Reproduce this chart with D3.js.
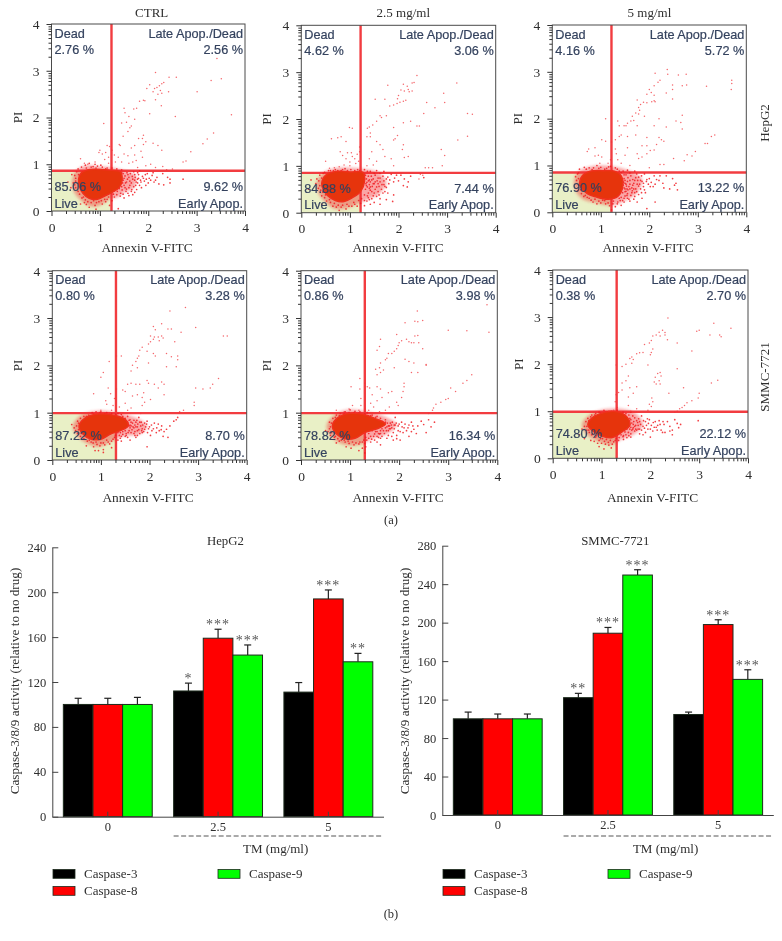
<!DOCTYPE html>
<html><head><meta charset="utf-8">
<script src="https://cdn.jsdelivr.net/npm/d3@7/dist/d3.min.js"></script>
<style>
html,body{margin:0;padding:0;background:#fff}
svg{display:block;filter:blur(0.3px)}
text{font-family:"Liberation Serif",serif;fill:#2e2e2e}
.gate{font-family:"Liberation Sans",sans-serif;font-size:12.7px;fill:#34425e;stroke:#34425e;stroke-width:.2px}
</style></head><body><div id="c"></div>
<script>
// ---------- panel (a): flow cytometry ----------
const panelTitles = ["CTRL","2.5 mg/ml","5 mg/ml"];
const rowTitles = ["HepG2","SMMC-7721"];
const majorTicks = [0,1,2,3,4];
const minorTicks = [0.30,0.48,0.60,0.70,0.78,0.85,0.90,0.95,1.30,1.48,1.60,1.70,1.78,1.85,1.90,1.95,2.30,2.48,2.60,2.70,2.78,2.85,2.90,2.95,3.30,3.48,3.60,3.70,3.78,3.85,3.90,3.95];
const gateX = [1.24,1.22,1.22,1.31,1.30,1.31];
const gateY = [0.86,0.85,0.85,0.99,0.99,0.99];
const quadDead = ["2.76 %","4.62 %","4.16 %","0.80 %","0.86 %","0.38 %"];
const quadLate = ["2.56 %","3.06 %","5.72 %","3.28 %","3.98 %","2.70 %"];
const quadLive = ["85.06 %","84.88 %","76.90 %","87.22 %","78.82 %","74.80 %"];
const quadEarly = ["9.62 %","7.44 %","13.22 %","8.70 %","16.34 %","22.12 %"];

const core1=[[.56,.68],[.62,.82],[.8,.89],[1.24,.87],[1.42,.84],[1.46,.66],[1.4,.5],[1.25,.4],[1.1,.32],[.95,.25],[.78,.27],[.65,.38],[.58,.52]];
const core2=[[.42,.62],[.5,.8],[.7,.88],[1.0,.87],[1.27,.86],[1.3,.66],[1.22,.45],[1.05,.32],[.88,.24],[.7,.26],[.55,.36],[.46,.48]];
const core3=[[.57,.58],[.62,.78],[.8,.88],[1.05,.89],[1.28,.88],[1.42,.78],[1.45,.55],[1.35,.34],[1.15,.28],[.9,.33],[.72,.4]];
const core4=[[.55,.72],[.68,.89],[.95,.97],[1.3,.94],[1.52,.84],[1.56,.72],[1.4,.62],[1.2,.55],[1.0,.44],[.8,.44],[.62,.56]];
const core5=[[.64,.72],[.72,.87],[.95,.98],[1.28,.96],[1.5,.88],[1.72,.76],[1.55,.66],[1.3,.58],[1.1,.46],[.9,.45],[.72,.55]];
const core6=[[.72,.72],[.82,.87],[1.05,.97],[1.32,.99],[1.52,.88],[1.58,.7],[1.42,.56],[1.22,.44],[1.02,.47],[.82,.58]];

const halo1=[[.42,.6],[.5,.85],[.7,.97],[1.0,.95],[1.3,.92],[1.55,.85],[1.75,.75],[1.7,.5],[1.5,.4],[1.38,.3],[1.2,.25],[1.0,.12],[.8,.1],[.62,.22],[.48,.38]];
const halo2=[[.3,.6],[.42,.82],[.7,.95],[1.3,.93],[1.6,.85],[1.75,.65],[1.6,.4],[1.4,.3],[1.2,.2],[.95,.1],[.7,.08],[.5,.22],[.35,.42]];
const halo3=[[.45,.55],[.52,.85],[.8,.98],[1.25,.98],[1.6,.88],[1.85,.7],[1.75,.42],[1.5,.25],[1.25,.15],[.9,.2],[.6,.3]];
const halo4=[[.42,.72],[.6,.95],[.95,1.04],[1.35,1.0],[1.7,.9],[1.95,.72],[1.8,.55],[1.45,.5],[1.2,.38],[.95,.28],[.7,.36],[.5,.52]];
const halo5=[[.52,.72],[.68,.95],[.95,1.06],[1.35,1.02],[1.7,.92],[1.95,.75],[1.75,.55],[1.45,.45],[1.2,.32],[.9,.32],[.65,.45]];
const halo6=[[.6,.72],[.75,.92],[1.05,1.04],[1.4,1.05],[1.7,.95],[1.85,.72],[1.65,.5],[1.4,.4],[1.2,.28],[.95,.35],[.7,.5]];

const sparse1=[[3.42,3.26],[3.3,2.79],[3.51,2.83],[3.01,2.55],[3.72,2.06],[3.35,1.67],[3.22,1.54],[3.13,1.44],[2.88,1.27],[2.78,1.07],[2.72,1.05],[2.56,2.02],[2.58,2.86],[2.43,2.86],[2.15,2.96],[2.32,2.75],[2.28,2.72],[2.42,2.55],[2.13,2.62],[2.18,2.64],[2.23,2.68],[2.25,2.58],[2.28,2.52],[2.2,2.5],[2.1,2.55],[2.03,2.7],[1.97,2.62],[1.93,2.36],[1.9,2.37],[1.82,2.35],[2.15,2.38],[2.27,2.25],[2.03,2.08],[1.76,2.2],[1.7,2.18],[1.5,2.2],[1.52,2.1],[1.6,2.02],[1.72,1.96],[1.55,1.9],[1.45,1.88],[1.08,1.87],[1.65,1.82],[1.62,1.78],[1.58,1.7],[1.48,1.6],[1.9,1.62],[1.88,1.55],[1.95,1.48],[1.8,1.55],[1.9,1.42],[2.1,1.45],[2.2,1.4],[2.28,1.3],[1.72,1.4],[1.65,1.35],[1.42,1.4],[1.4,1.42],[1.3,1.2],[1.38,1.15],[1.5,1.22],[1.58,1.18],[1.72,1.2],[1.85,1.28],[1.88,1.15],[1.75,1.08],[1.68,1.05],[1.6,1.02],[1.45,1.05],[1.32,1.05],[2.05,1.0],[1.15,1.4],[1.2,1.38],[1.25,1.3],[1.18,1.15],[1.0,1.3],[.98,1.25],[1.05,1.22],[1.1,1.1],[.9,1.05],[.75,1.0],[.6,1.12],[.68,1.02],[1.12,1.25],[1.18,1.02],[2.3,.95],[2.15,.93],[1.95,.97],[1.78,.93],[2.5,.9],[2.38,.88]];
const fringe1=[[1.45,.82],[1.52,.75],[1.48,.66],[1.5,.55],[1.46,.45],[1.55,.62],[1.6,.72],[1.62,.55],[1.68,.68],[1.72,.78],[1.75,.62],[1.8,.7],[1.82,.55],[1.88,.74],[1.92,.64],[1.98,.8],[2.02,.7],[2.08,.76],[2.12,.62],[2.18,.72],[2.22,.58],[2.3,.8],[2.32,.56],[2.45,.68],[2.45,.6],[2.72,.68],[1.65,.42],[1.72,.4],[1.58,.38],[1.42,.32],[1.5,.28],[1.78,.82],[1.35,.35],[1.3,.3],[1.25,.22],[1.18,.3],[1.1,.25],[1.05,.15],[.98,.2],[.9,.12],[.82,.18],[.78,.08],[.7,.24],[.66,.3],[.58,.36],[.62,.46],[.5,.5],[.45,.6],[.5,.7],[.42,.78],[.52,.84],[.55,.9],[.62,.94],[.7,.98],[.78,1.02],[.86,.95],[.95,.96],[1.05,.94],[1.15,.92],[.4,.5],[.34,.62],[.6,.15],[1.2,.12],[1.38,.05],[1.32,.58],[1.44,.7],[1.4,.48],[1.43,.38],[1.55,.47],[1.36,.7],[1.48,.8],[1.56,.82],[.72,.14],[.92,.04],[1.62,.64],[1.7,.52],[1.85,.62],[2.0,.6],[2.4,.72],[1.95,.55]];
const dense1=[[1.5,.7],[1.53,.6],[1.58,.78],[1.6,.5],[1.65,.6],[1.67,.74],[1.72,.66],[1.74,.55],[1.78,.68],[1.8,.78],[1.84,.66],[1.86,.5],[1.9,.7],[1.94,.78],[1.96,.68],[2.05,.66],[2.1,.82],[2.15,.66],[1.48,.36],[1.54,.42],[1.6,.33],[1.68,.35],[1.76,.46],[1.45,.52],[1.47,.6],[1.52,.5],[1.57,.68],[1.63,.8],[1.7,.84],[1.78,.6],[1.3,.44],[1.36,.42],[1.28,.36],[1.15,.25],[1.12,.2],[1.03,.22],[.93,.18],[.87,.22],[.75,.2],[.68,.18],[.63,.28],[.55,.42],[.48,.56],[.5,.64],[.48,.76],[.56,.78],[.72,.92],[.82,.94],[.92,.92],[1.12,.9],[1.02,.98],[.9,1.0],[1.25,.92],[1.35,.9],[1.45,.88],[1.82,.86],[1.66,.46],[1.73,.72]];

const sparse2=[[2.38,2.93],[2.32,2.78],[2.28,2.77],[2.1,2.74],[2.18,2.7],[2.05,2.62],[2.12,2.6],[2.2,2.63],[2.28,2.6],[2.22,2.58],[3.2,2.77],[1.78,2.72],[2.0,2.5],[1.98,2.43],[1.52,2.42],[1.72,2.42],[2.93,2.55],[2.58,2.35],[2.95,2.35],[2.75,2.24],[2.52,2.12],[1.9,2.3],[1.97,2.33],[2.03,2.36],[2.1,2.38],[2.15,2.4],[1.82,2.28],[1.75,2.07],[1.62,2.07],[1.65,2.03],[1.55,1.95],[1.47,1.87],[1.36,1.8],[1.4,1.83],[1.05,1.8],[.99,1.82],[2.1,1.92],[2.25,1.95],[2.38,1.85],[2.43,1.85],[1.9,1.82],[3.42,2.12],[3.52,2.1],[3.42,1.63],[3.22,1.55],[1.42,1.7],[1.42,1.62],[1.35,1.62],[1.98,1.65],[1.93,1.58],[1.9,1.55],[.62,1.58],[.75,1.6],[.82,1.62],[.92,1.52],[1.2,1.4],[1.2,1.3],[1.55,1.52],[1.62,1.45],[1.68,1.35],[1.72,1.2],[2.1,1.45],[2.08,1.35],[2.2,1.2],[2.12,1.18],[2.88,1.35],[2.95,1.22],[2.9,1.0],[2.62,.96],[2.7,.96],[2.55,.96],[1.45,1.3],[1.4,1.15],[1.35,1.0],[1.55,1.1],[1.48,1.02],[1.85,1.15],[1.9,1.0],[.8,1.3],[.85,1.22],[.92,1.15],[1.0,1.08],[1.05,1.2],[1.1,1.15],[1.12,1.05],[1.0,1.0],[.88,1.02],[.78,.98],[.68,.96],[.58,.95],[.5,1.1],[1.15,1.25],[1.18,1.1],[1.03,1.28],[.95,1.28],[2.45,.82],[2.42,.72],[2.5,.8]];
const fringe2=[[1.32,.8],[1.38,.78],[1.45,.7],[1.52,.8],[1.58,.74],[1.62,.66],[1.68,.78],[1.75,.72],[1.8,.62],[1.85,.82],[1.92,.74],[2.0,.68],[2.05,.8],[2.12,.72],[2.2,.66],[2.25,.78],[1.35,.65],[1.4,.6],[1.48,.62],[1.55,.55],[1.6,.56],[1.65,.5],[1.72,.45],[1.78,.42],[1.5,.42],[1.55,.35],[1.62,.3],[1.45,.3],[1.38,.42],[1.32,.5],[1.35,.25],[1.42,.18],[1.3,.15],[1.22,.2],[1.15,.14],[1.08,.22],[.98,.14],[.92,.08],[.85,.16],[.78,.05],[.72,.12],[.65,.14],[.6,.22],[.52,.25],[.48,.32],[.42,.36],[.4,.48],[.35,.52],[.3,.62],[.32,.72],[.38,.8],[.45,.84],[.2,.7],[.15,.5],[.42,.18],[.56,.9],[.66,.9],[.75,.9],[.85,.92],[.95,.9],[1.1,.9],[1.16,.92],[1.3,.92],[1.42,.88],[1.55,.9],[1.7,.88],[1.75,.28],[1.9,.38],[1.88,.24],[2.1,.58],[2.18,.55],[1.3,.72],[1.42,.55],[1.52,.66],[1.36,.55],[1.3,.38],[1.42,.48],[1.58,.62],[1.7,.6],[1.75,.54],[1.5,.22],[1.62,.18],[2.52,.75],[1.38,.32],[1.33,.62]];
const dense2=[[1.34,.72],[1.4,.7],[1.44,.78],[1.48,.72],[1.46,.56],[1.5,.62],[1.56,.68],[1.62,.74],[1.66,.6],[1.7,.68],[1.72,.56],[1.78,.76],[1.82,.7],[1.9,.66],[1.96,.8],[1.4,.52],[1.45,.45],[1.52,.5],[1.58,.45],[1.36,.36],[1.4,.28],[1.48,.36],[1.3,.26],[1.24,.3],[1.18,.26],[1.1,.18],[1.04,.14],[.94,.18],[.82,.12],[.76,.16],[.68,.2],[.58,.28],[.5,.38],[.44,.44],[.38,.58],[.36,.68],[.42,.74],[.48,.86],[.6,.9],[.7,.92],[.82,.9],[.9,.94],[1.02,.92],[1.2,.9],[1.36,.88],[1.5,.84],[1.62,.84],[1.34,.58],[1.38,.68],[1.42,.66],[1.6,.38],[1.68,.42]];

const sparse3=[[2.37,3.05],[2.12,2.97],[2.38,2.95],[2.6,2.93],[2.76,2.95],[2.22,2.82],[2.18,2.78],[2.1,2.7],[2.48,2.72],[2.48,2.62],[2.68,2.7],[2.77,2.72],[3.18,2.69],[3.7,2.82],[3.7,2.75],[3.69,2.62],[2.0,2.62],[2.04,2.56],[2.1,2.5],[2.35,2.55],[2.48,2.42],[1.95,2.52],[2.1,2.38],[2.12,2.36],[2.05,2.36],[1.95,2.34],[1.88,2.35],[1.82,2.3],[1.78,2.24],[1.75,2.4],[1.8,2.18],[1.72,2.12],[1.78,2.1],[1.65,2.05],[1.62,1.95],[1.68,1.96],[1.55,1.9],[1.52,1.85],[1.48,1.85],[1.38,1.85],[1.35,1.95],[1.75,1.85],[1.1,2.0],[1.9,2.05],[2.2,2.0],[2.1,1.85],[2.68,2.07],[2.65,1.92],[2.68,1.78],[2.55,1.95],[2.35,1.82],[2.2,1.6],[2.25,1.55],[2.3,1.52],[2.15,1.45],[1.95,1.6],[1.72,1.65],[1.42,1.65],[1.38,1.62],[1.55,1.62],[1.3,1.55],[3.28,1.62],[3.35,1.65],[3.2,1.47],[3.15,1.47],[2.95,1.3],[2.78,1.23],[2.88,1.2],[1.95,1.42],[1.85,1.42],[2.02,1.32],[2.1,1.33],[1.95,1.25],[1.75,1.25],[1.78,1.15],[1.85,1.18],[1.55,1.38],[1.3,1.35],[1.32,1.25],[1.35,1.12],[1.42,1.05],[1.5,1.22],[1.6,1.0],[1.22,1.5],[1.1,1.52],[1.02,1.55],[.88,1.38],[.72,1.3],[.75,1.35],[.88,1.2],[.95,1.22],[1.02,1.18],[.98,1.05],[1.15,1.05],[1.2,1.12],[2.3,1.02],[2.22,1.02],[2.0,.95],[2.5,1.15],[2.72,1.1]];
const fringe3=[[1.42,.85],[1.48,.72],[1.52,.8],[1.55,.66],[1.58,.55],[1.62,.78],[1.65,.46],[1.7,.68],[1.75,.6],[1.78,.75],[1.82,.5],[1.85,.66],[1.9,.82],[1.92,.42],[1.98,.6],[2.0,.72],[2.08,.55],[2.15,.7],[2.2,.68],[2.28,.62],[2.35,.78],[2.42,.5],[2.48,.72],[2.55,.62],[2.52,.58],[1.45,.6],[1.48,.52],[1.52,.45],[1.45,.42],[1.5,.35],[1.55,.3],[1.62,.36],[1.68,.28],[1.75,.22],[1.85,.3],[1.95,.08],[2.12,.22],[1.45,.25],[1.42,.15],[1.35,.22],[1.3,.12],[1.25,.18],[1.22,.05],[1.15,.2],[1.08,.25],[1.0,.2],[.92,.18],[.88,.28],[.8,.26],[.72,.32],[.65,.34],[.6,.4],[.52,.46],[.55,.58],[.5,.68],[.48,.76],[.52,.82],[.56,.92],[.66,.96],[.76,.95],[.85,.95],[.92,1.0],[1.0,.96],[1.12,.94],[1.2,.98],[1.3,.95],[1.38,.88],[1.45,.66],[1.5,.5],[1.42,.72],[1.46,.58],[1.5,.62],[1.56,.48],[1.6,.6],[1.66,.58],[1.72,.5],[1.8,.6],[1.88,.55],[1.95,.7],[1.42,.32],[1.55,.4],[1.6,.24],[1.38,.3],[1.48,.3],[1.7,.42],[2.02,.55],[2.1,.78],[1.55,.9],[1.7,.88],[2.3,.52],[2.58,.48]];
const dense3=[[1.48,.8],[1.5,.68],[1.53,.56],[1.56,.74],[1.6,.68],[1.64,.52],[1.66,.7],[1.68,.62],[1.72,.74],[1.74,.44],[1.78,.56],[1.82,.68],[1.84,.78],[1.88,.62],[1.9,.48],[1.94,.66],[2.04,.64],[2.12,.6],[2.22,.78],[1.5,.44],[1.54,.36],[1.58,.28],[1.64,.42],[1.7,.34],[1.78,.38],[1.48,.22],[1.4,.25],[1.34,.18],[1.26,.24],[1.18,.14],[1.1,.18],[1.04,.26],[.96,.24],[.84,.22],[.76,.3],[.68,.36],[.58,.48],[.54,.72],[.54,.84],[.7,.92],[.82,.91],[.96,.94],[1.08,.92],[1.16,.97],[1.34,.92],[1.46,.88],[1.6,.84],[1.74,.82],[1.47,.64],[1.52,.6],[1.54,.5],[1.44,.5],[1.6,.5],[1.68,.5],[1.76,.68],[1.84,.42]];

const sparse4=[[2.74,3.22],[2.42,3.15],[2.25,2.88],[2.08,2.82],[2.12,2.75],[2.38,2.77],[2.45,2.77],[2.95,2.8],[2.65,2.7],[3.52,2.62],[3.6,2.62],[2.02,2.62],[2.1,2.6],[2.18,2.6],[2.25,2.62],[2.28,2.58],[2.2,2.52],[2.08,2.55],[2.02,2.5],[1.98,2.45],[2.52,2.5],[1.85,2.38],[1.95,2.3],[2.08,2.25],[2.12,2.2],[1.8,2.32],[1.78,2.2],[1.75,2.15],[1.72,2.08],[2.35,2.25],[2.45,2.18],[2.58,2.2],[2.58,2.12],[1.42,2.2],[1.32,2.2],[1.17,2.08],[1.65,2.0],[1.62,1.88],[1.75,1.95],[1.98,2.05],[2.35,1.97],[2.55,1.97],[1.05,1.85],[1.0,1.75],[1.55,1.6],[1.62,1.62],[1.72,1.6],[1.8,1.6],[1.95,1.68],[1.98,1.62],[2.1,1.6],[2.25,1.65],[2.3,1.6],[2.18,1.52],[3.42,1.72],[3.3,1.6],[3.25,1.52],[3.1,1.5],[2.95,1.52],[1.88,1.42],[1.85,1.32],[1.75,1.38],[1.65,1.35],[1.5,1.45],[1.45,1.48],[2.3,1.38],[2.02,1.28],[1.9,1.22],[1.85,1.15],[2.92,1.22],[2.92,1.15],[2.7,1.05],[2.62,1.02],[1.32,1.5],[1.2,1.4],[1.15,1.52],[.85,1.4],[1.1,1.25],[1.12,1.18],[1.0,1.05],[1.22,1.05],[1.38,1.12],[1.5,1.2],[1.55,1.05],[1.45,1.0],[1.25,1.15],[1.28,1.3],[1.62,1.1],[1.82,.98]];
const fringe4=[[1.55,.92],[1.6,.85],[1.65,.78],[1.68,.68],[1.72,.8],[1.75,.62],[1.78,.9],[1.82,.72],[1.85,.58],[1.9,.65],[1.95,.82],[2.0,.7],[2.05,.62],[2.1,.78],[2.15,.68],[2.2,.62],[2.25,.72],[2.3,.6],[2.35,.65],[2.42,.72],[2.5,.82],[2.58,.9],[2.55,.85],[1.58,.62],[1.62,.58],[1.68,.56],[1.52,.56],[1.5,.5],[1.55,.48],[1.42,.5],[1.38,.52],[1.35,.42],[1.28,.48],[1.22,.4],[1.18,.34],[1.12,.42],[1.05,.36],[.98,.3],[.92,.33],[.85,.28],[.8,.38],[.88,.2],[.95,.2],[1.05,.22],[.72,.4],[.65,.45],[.58,.5],[.52,.56],[.48,.62],[.5,.72],[.45,.68],[.52,.82],[.58,.88],[.65,.92],[.75,.95],[.82,1.0],[.9,1.02],[1.0,1.02],[1.12,1.0],[1.22,.98],[1.35,.98],[1.45,.92],[1.55,.8],[1.58,.72],[1.6,.68],[1.45,.6],[1.4,.58],[1.35,.58],[1.62,.72],[1.7,.74],[1.75,.7],[1.8,.8],[1.85,.66],[1.9,.78],[1.95,.28],[2.02,.52],[1.72,.48],[1.75,.52],[1.05,.16],[1.22,.26],[.7,.3],[1.42,.4],[1.6,.42],[2.28,.5],[2.38,.48],[.4,.75]];
const dense4=[[1.58,.84],[1.62,.8],[1.66,.7],[1.64,.64],[1.7,.6],[1.72,.7],[1.76,.76],[1.78,.64],[1.8,.56],[1.83,.8],[1.86,.74],[1.88,.6],[1.92,.7],[1.96,.58],[1.98,.66],[2.04,.74],[2.08,.66],[2.14,.58],[2.18,.76],[2.24,.64],[1.56,.58],[1.5,.62],[1.45,.54],[1.52,.52],[1.4,.46],[1.3,.52],[1.25,.44],[1.15,.38],[1.08,.32],[1.0,.36],[.9,.38],[.84,.36],[.76,.42],[.68,.5],[.6,.56],[.54,.64],[.54,.78],[.62,.84],[.7,.92],[.85,.97],[.98,1.0],[1.08,.98],[1.18,.96],[1.3,.97],[1.42,.96],[1.5,.88],[1.6,.74],[1.68,.84],[1.74,.84],[1.84,.62],[1.94,.76],[1.7,.52]];

const sparse5=[[3.79,3.28],[2.37,3.15],[2.32,2.93],[2.38,2.92],[2.48,2.95],[2.12,2.9],[3.0,2.74],[3.38,2.73],[3.83,2.7],[2.38,2.63],[2.32,2.62],[1.95,2.65],[2.15,2.55],[2.2,2.5],[2.25,2.48],[2.05,2.52],[2.0,2.48],[1.98,2.42],[2.3,2.48],[2.4,2.48],[2.48,2.35],[1.62,2.55],[1.6,2.4],[1.55,2.32],[1.95,2.35],[1.9,2.3],[1.78,2.25],[1.85,2.25],[1.75,2.15],[1.72,2.12],[2.12,2.13],[2.2,2.08],[2.3,2.05],[1.62,2.05],[1.6,1.95],[1.68,1.9],[1.62,1.85],[1.55,1.8],[1.52,1.92],[2.55,2.0],[2.55,2.02],[1.9,1.95],[2.25,1.85],[2.38,1.85],[3.48,1.8],[3.38,1.68],[3.3,1.62],[3.05,1.52],[3.15,1.45],[3.0,1.3],[2.95,1.28],[2.85,1.22],[2.75,1.18],[2.7,1.1],[2.68,1.05],[2.6,.98],[1.2,1.72],[1.02,1.55],[1.3,1.62],[1.35,1.55],[1.4,1.52],[1.55,1.55],[1.62,1.5],[2.1,1.62],[2.1,1.55],[2.08,1.45],[1.85,1.45],[1.78,1.42],[1.65,1.32],[1.55,1.25],[1.45,1.38],[1.42,1.2],[1.48,1.12],[1.38,1.05],[1.2,1.5],[1.22,1.3],[1.22,1.15],[1.18,1.05],[1.05,1.15],[.98,1.08],[.88,1.02],[.72,1.05],[1.95,1.22],[1.98,1.15],[2.05,1.32],[1.8,1.12],[1.72,1.05],[1.6,1.02]];
const fringe5=[[1.72,.85],[1.75,.7],[1.78,.62],[1.82,.78],[1.85,.68],[1.88,.58],[1.92,.9],[1.98,.72],[2.02,.6],[2.05,.8],[2.1,.68],[2.15,.62],[2.2,.74],[2.25,.8],[2.3,.65],[2.38,.72],[2.45,.82],[2.5,.75],[2.6,.85],[2.65,.7],[2.72,.8],[1.62,.62],[1.6,.55],[1.55,.6],[1.5,.55],[1.58,.48],[1.65,.5],[1.7,.56],[1.5,.42],[1.42,.5],[1.38,.56],[1.32,.48],[1.28,.42],[1.3,.35],[1.32,.28],[1.25,.25],[1.2,.38],[1.12,.36],[1.05,.38],[.98,.35],[.9,.38],[.82,.42],[.75,.45],[.68,.48],[.6,.52],[.55,.6],[.5,.62],[.6,.7],[.58,.8],[.65,.88],[.72,.95],[.8,.98],[.9,1.02],[1.0,1.06],[1.1,1.03],[1.2,1.02],[1.35,1.0],[1.45,.95],[1.55,.92],[1.62,.88],[1.72,.8],[1.65,.82],[1.58,.75],[1.45,.62],[1.65,.66],[1.78,.52],[1.88,.42],[1.95,.45],[2.02,.42],[1.55,.38],[1.62,.32],[1.95,.52],[2.35,.56],[2.2,.5],[2.55,.58],[1.02,.25],[.92,.28],[1.18,.2],[1.3,.15],[.72,.36],[1.42,.38],[1.5,.68],[1.4,.62],[1.8,.72],[1.92,.74]];
const dense5=[[1.74,.62],[1.76,.78],[1.8,.66],[1.84,.74],[1.86,.8],[1.9,.66],[1.94,.78],[1.98,.62],[2.06,.7],[2.12,.76],[2.18,.68],[2.28,.72],[1.52,.6],[1.58,.56],[1.62,.56],[1.68,.62],[1.72,.68],[1.48,.5],[1.55,.5],[1.62,.46],[1.44,.44],[1.38,.46],[1.34,.42],[1.25,.38],[1.18,.34],[1.08,.32],[.96,.4],[.88,.42],[.78,.4],[.7,.5],[.62,.58],[.58,.66],[.62,.78],[.7,.9],[.78,.94],[.88,.98],[.98,1.0],[1.08,1.0],[1.18,.99],[1.3,.98],[1.42,.94],[1.52,.9],[1.6,.84],[1.68,.8],[1.78,.72],[1.82,.66],[1.9,.74],[2.0,.76],[1.75,.46],[1.85,.5],[2.08,.58],[2.25,.6]];

const sparse6=[[2.36,2.98],[3.3,2.87],[3.65,2.76],[3.0,2.72],[2.95,2.7],[2.25,2.72],[2.18,2.68],[2.3,2.67],[2.12,2.62],[2.05,2.6],[3.22,2.62],[3.42,2.62],[3.45,2.58],[2.3,2.62],[2.2,2.6],[2.02,2.5],[1.98,2.45],[2.35,2.52],[2.55,2.45],[2.05,2.32],[2.02,2.25],[2.0,2.2],[1.88,2.42],[1.85,2.25],[1.78,2.24],[1.72,2.22],[2.85,2.28],[1.62,2.15],[1.65,2.1],[1.58,2.12],[1.5,2.0],[1.62,2.02],[1.42,1.95],[1.3,1.98],[2.55,1.9],[1.95,1.98],[2.2,1.82],[2.22,1.75],[2.15,1.8],[2.1,1.72],[2.18,1.65],[2.08,1.62],[2.12,1.58],[2.2,1.58],[3.38,1.66],[3.25,1.6],[1.55,1.75],[1.5,1.65],[1.42,1.6],[1.35,1.4],[1.42,1.45],[1.58,1.5],[1.72,1.52],[1.65,1.38],[1.55,1.3],[2.68,1.5],[2.38,1.38],[3.0,1.38],[2.98,1.28],[2.85,1.22],[2.75,1.18],[2.7,1.12],[2.65,1.08],[2.6,1.05],[2.03,1.28],[2.05,1.2],[1.98,1.15],[2.02,1.1],[1.95,1.02],[1.72,1.05],[1.6,1.0],[1.55,1.12],[1.3,1.35],[1.28,1.2],[1.32,1.08],[1.25,1.02],[1.15,1.0],[2.55,1.0],[2.5,.98]];
const fringe6=[[1.58,.85],[1.62,.75],[1.65,.65],[1.68,.58],[1.72,.8],[1.75,.7],[1.78,.52],[1.82,.9],[1.85,.68],[1.9,.78],[1.95,.62],[1.98,.82],[2.02,.7],[2.05,.58],[2.1,.78],[2.12,.66],[2.18,.8],[2.22,.6],[2.28,.72],[2.3,.55],[2.35,.78],[2.4,.68],[2.45,.5],[2.5,.82],[2.55,.74],[2.58,.65],[2.62,.72],[2.45,.6],[2.25,.55],[2.98,.8],[1.55,.55],[1.5,.5],[1.6,.52],[1.45,.48],[1.4,.5],[1.52,.62],[1.3,.42],[1.25,.35],[1.18,.38],[1.1,.4],[1.02,.42],[.95,.38],[.88,.45],[.8,.5],[.75,.55],[.7,.6],[.65,.68],[.68,.78],[.72,.85],[.8,.92],[.88,.95],[.95,.98],[1.05,1.02],[1.15,.98],[1.25,.98],[1.4,.95],[1.5,.95],[1.6,.98],[1.08,.3],[1.0,.32],[.92,.32],[.85,.36],[1.15,.28],[1.2,.22],[1.05,.2],[.95,.25],[.78,.38],[.65,.42],[.55,.5],[.6,.62],[1.35,.38],[1.45,.4],[1.6,.45],[1.7,.62],[1.62,.6],[1.75,.62],[1.85,.5],[1.9,.55],[2.0,.45],[2.15,.7],[1.65,.72],[1.78,.78],[1.6,.66],[2.4,.58]];
const dense6=[[1.6,.82],[1.64,.9],[1.66,.78],[1.7,.7],[1.72,.6],[1.76,.84],[1.8,.72],[1.82,.6],[1.86,.8],[1.92,.7],[1.96,.74],[2.0,.62],[2.08,.66],[2.14,.6],[2.2,.72],[2.26,.78],[1.58,.62],[1.56,.48],[1.52,.44],[1.48,.56],[1.44,.46],[1.36,.44],[1.28,.38],[1.22,.3],[1.14,.34],[1.06,.36],[.98,.42],[.9,.48],[.82,.52],[.74,.6],[.7,.68],[.74,.8],[.78,.88],[.86,.92],[.98,.96],[1.08,.98],[1.2,1.0],[1.32,1.02],[1.44,.98],[1.56,.92],[1.68,.86],[1.64,.62],[1.68,.68],[1.74,.76],[1.78,.62],[1.88,.64],[1.94,.84],[2.06,.76]];

const panelCore = [core1,core2,core3,core4,core5,core6];
const panelHalo = [halo1,halo2,halo3,halo4,halo5,halo6];
const panelSparse = [sparse1,sparse2,sparse3,sparse4,sparse5,sparse6];
const panelFringe = [fringe1.concat(dense1),fringe2.concat(dense2),fringe3.concat(dense3),fringe4.concat(dense4),fringe5.concat(dense5),fringe6.concat(dense6)];

// ---------- panel (b): caspase activity ----------
const doses = ["0","2.5","5"];
const seriesNames = ["Caspase-3","Caspase-8","Caspase-9"];
const seriesColors = ["#000000","#ff0000","#00ff00"];
const hepValues = [[100,100,100],[112,159,144],[111,194,138]];
const hepErrTop = [[105.5,105.5,106.3],[119,167,153],[119.5,202,145.5]];
const hepStars  = [["","",""],["*","***","***"],["","***","**"]];
const hepTicks = [0,40,80,120,160,200,240];
const smmcValues = [[100,100,100],[122,189,249.5],[104.5,198,141]];
const smmcErrTop = [[107,105,105],[126.5,195,255],[107,203,151]];
const smmcStars  = [["","",""],["**","***","***"],["","***","***"]];
const smmcTicks = [0,40,80,120,160,200,240,280];
const barTitles = ["HepG2","SMMC-7721"];
const yTitle = "Caspase-3/8/9 activity (relative to no drug)";
const xTitle = "TM (mg/ml)";

// ---------- layout ----------
const W=782,H=941;
const svg=d3.select("#c").append("svg").attr("width",W).attr("height",H);
const ink="#333";
const frames=[
 {l:51.5,r:245,t:24,b:211},{l:301.3,r:495.7,t:25.3,b:212.7},{l:552.3,r:746.3,t:25,b:212.3},
 {l:52.3,r:246.7,t:270.7,b:460},{l:301,r:497.3,t:270.7,b:460},{l:552.7,r:748,t:270,b:458.3}];
const titleCx=[151.7,403.3,649.4];
const xLabelCx=[147,398,648,148,398,652.5];
const xLabelY=[252,252,252,502,502,502];
const defs=svg.append("defs");
defs.append("filter").attr("id","soft").append("feGaussianBlur").attr("stdDeviation",1.6);

frames.forEach((f,i)=>{
  const x=d3.scaleLinear().domain([0,4]).range([f.l,f.r]);
  const y=d3.scaleLinear().domain([0,4]).range([f.b,f.t]);
  const g=svg.append("g");
  g.append("rect").attr("x",x(0)).attr("y",y(gateY[i])).attr("width",x(gateX[i])-x(0)).attr("height",y(0)-y(gateY[i])).attr("fill","#e9f0c6");
  g.append("line").attr("x1",x(gateX[i])).attr("x2",x(gateX[i])).attr("y1",y(0)).attr("y2",y(4)).attr("stroke","#f23c40").attr("stroke-width",2.4);
  g.append("line").attr("x1",x(0)).attr("x2",x(4)).attr("y1",y(gateY[i])).attr("y2",y(gateY[i])).attr("stroke","#f23c40").attr("stroke-width",2.4);
  const hull=d3.line().x(d=>x(d[0])).y(d=>y(d[1])).curve(d3.curveCatmullRomClosed);
  g.append("path").attr("d",hull(panelHalo[i])).attr("fill","#f22a2a").attr("opacity",.42).attr("filter","url(#soft)");
  g.selectAll("circle.f").data(panelFringe[i]).join("circle").attr("class","f")
    .attr("cx",d=>x(d[0])).attr("cy",d=>y(d[1])).attr("r",.85).attr("fill","#f01c22").attr("opacity",.85);
  g.append("path").attr("d",hull(panelCore[i])).attr("fill","#e6340c").attr("stroke","#f0301c").attr("stroke-width",1.5);
  g.selectAll("circle.s").data(panelSparse[i]).join("circle").attr("class","s")
    .attr("cx",d=>x(d[0])).attr("cy",d=>y(d[1])).attr("r",.75).attr("fill","#f2333a").attr("opacity",.75);
  g.append("rect").attr("x",f.l).attr("y",f.t).attr("width",f.r-f.l).attr("height",f.b-f.t).attr("fill","none").attr("stroke","#4a4a4a").attr("stroke-width",1);
  const sty=s=>{s.select(".domain").remove();s.selectAll("line").attr("stroke",ink);s.selectAll("text").attr("font-size",13.5).attr("fill","#2e2e2e").attr("font-family","Liberation Serif");};
  g.append("g").attr("transform",`translate(0,${f.b})`).call(d3.axisBottom(x).tickValues(majorTicks).tickSize(5).tickPadding(6).tickFormat(d3.format("d"))).call(sty);
  g.append("g").attr("transform",`translate(0,${f.b})`).call(d3.axisBottom(x).tickValues(minorTicks).tickSize(3).tickFormat("")).call(sty);
  g.append("g").attr("transform",`translate(${f.l},0)`).call(d3.axisLeft(y).tickValues(majorTicks).tickSize(5).tickPadding(7).tickFormat(d3.format("d"))).call(sty);
  g.append("g").attr("transform",`translate(${f.l},0)`).call(d3.axisLeft(y).tickValues(minorTicks).tickSize(3).tickFormat("")).call(sty);
  const lab=(t,px,py,anc)=>g.append("text").attr("class","gate").attr("x",px).attr("y",py).attr("text-anchor",anc).text(t);
  lab("Dead",f.l+3,f.t+13.5,"start");lab(quadDead[i],f.l+3,f.t+29.5,"start");
  lab("Late Apop./Dead",f.r-2,f.t+13.5,"end");lab(quadLate[i],f.r-2,f.t+29.5,"end");
  lab(quadLive[i],f.l+3,f.b-20,"start");lab("Live",f.l+3,f.b-3.5,"start");
  lab(quadEarly[i],f.r-2,f.b-20,"end");lab("Early Apop.",f.r-2,f.b-3.5,"end");
  g.append("text").attr("x",xLabelCx[i]).attr("y",xLabelY[i]).attr("text-anchor","middle").attr("font-size",13.4).text("Annexin V-FITC");
  g.append("text").attr("transform",`translate(${f.l-30},${(f.t+f.b)/2}) rotate(-90)`).attr("text-anchor","middle").attr("font-size",13).text("PI");
  if(i<3) g.append("text").attr("x",titleCx[i]).attr("y",17).attr("text-anchor","middle").attr("font-size",13).text(panelTitles[i]);
});
rowTitles.forEach((t,i)=>{
  svg.append("text").attr("transform",`translate(769,${i?377:123}) rotate(-90)`).attr("text-anchor","middle").attr("font-size",13).text(t);
});
svg.append("text").attr("x",391).attr("y",524).attr("text-anchor","middle").attr("font-size",12.5).text("(a)");
svg.append("text").attr("x",391).attr("y",918).attr("text-anchor","middle").attr("font-size",12.5).text("(b)");

function bars(o){
  const g=svg.append("g");
  const x=d3.scaleBand().domain(doses).range([o.l+.35,o.r]).paddingInner(.194).paddingOuter(.097);
  const s=d3.scaleBand().domain(seriesNames).range([0,x.bandwidth()]);
  const y=d3.scaleLinear().domain([0,o.max]).range([o.b,o.t]);
  doses.forEach((dose,i)=>{
    seriesNames.forEach((nm,j)=>{
      const bx=x(dose)+s(nm),w=s.bandwidth(),cx=bx+w/2;
      g.append("line").attr("x1",cx).attr("x2",cx).attr("y1",y(o.vals[i][j])).attr("y2",y(o.err[i][j])).attr("stroke","#222").attr("stroke-width",1.2);
      g.append("line").attr("x1",cx-3.5).attr("x2",cx+3.5).attr("y1",y(o.err[i][j])).attr("y2",y(o.err[i][j])).attr("stroke","#222").attr("stroke-width",1.2);
      g.append("rect").attr("x",bx).attr("y",y(o.vals[i][j])).attr("width",w).attr("height",o.b-y(o.vals[i][j]))
        .attr("fill",seriesColors[j]).attr("stroke","#1c2a1c").attr("stroke-width",1);
      if(o.stars[i][j]) g.append("text").attr("x",cx).attr("y",y(o.err[i][j])).attr("text-anchor","middle")
        .attr("font-size",14).attr("letter-spacing",1).style("fill","#555").text(o.stars[i][j]);
    });
  });
  const st=a=>{a.selectAll("line,path").attr("stroke","#444").attr("stroke-width",1);a.selectAll("text").attr("font-size",12.5).attr("font-family","Liberation Serif").attr("fill","#2e2e2e");};
  g.append("g").attr("transform",`translate(${o.l},0)`).call(d3.axisLeft(y).tickValues(o.ticks).tickSizeInner(-6).tickSizeOuter(0).tickPadding(6)).call(st);
  g.append("g").attr("transform",`translate(0,${o.b})`).call(d3.axisBottom(x).tickSizeInner(-5).tickSizeOuter(0).tickPadding(5)).call(st);
  g.append("text").attr("x",(o.l+o.r)/2+7.5).attr("y",545).attr("text-anchor","middle").attr("font-size",12.8).text(o.title);
  g.append("text").attr("transform",`translate(${o.l-37},681) rotate(-90)`).attr("dy",4).attr("text-anchor","middle").attr("font-size",13.2).text(yTitle);
  g.append("line").attr("x1",x("2.5")).attr("x2",o.r).attr("y1",836).attr("y2",836).attr("stroke","#555").attr("stroke-width",1).attr("stroke-dasharray","5 2.5");
  g.append("text").attr("x",x("2.5")+102).attr("y",853).attr("text-anchor","middle").attr("font-size",13).text(xTitle);
  const legendPos=[[0,0],[0,17],[165,0]];
  seriesNames.forEach((nm,j)=>{
    const lx=o.l+.7+legendPos[j][0],ly=869.5+legendPos[j][1];
    g.append("rect").attr("x",lx).attr("y",ly).attr("width",22).attr("height",8.8).attr("fill",seriesColors[j]).attr("stroke","#1c2a1c").attr("stroke-width",.8);
    g.append("text").attr("x",lx+31).attr("y",ly+8.5).attr("font-size",13).text(nm);
  });
}
bars({l:52.3,r:383.5,t:547.3,b:816.7,max:240,vals:hepValues,err:hepErrTop,stars:hepStars,ticks:hepTicks,title:barTitles[0]});
bars({l:442.3,r:773.3,t:545.7,b:815,max:280,vals:smmcValues,err:smmcErrTop,stars:smmcStars,ticks:smmcTicks,title:barTitles[1]});
</script></body></html>
